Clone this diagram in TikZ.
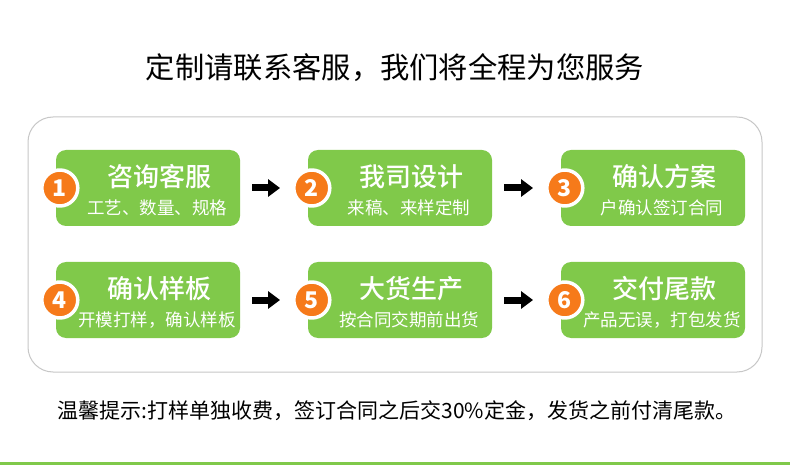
\documentclass[tikz,border=0pt]{standalone}
\usepackage{fontspec}
\setmainfont{Noto Sans CJK SC}
\newfontfamily\medfont{Noto Sans CJK SC}[UprightFont=* Medium]
\usetikzlibrary{arrows.meta}
\definecolor{stepgreen}{RGB}{128,201,74}
\definecolor{numorange}{RGB}{246,122,26}
\begin{document}
\begin{tikzpicture}[x=1pt, y=-1pt, line cap=round, line join=round,
    stepbox/.style={fill=stepgreen, rounded corners=10pt, minimum width=184pt, minimum height=76pt, inner sep=0pt},
    headtext/.style={text=white, font=\fontsize{26}{26}\medfont, inner sep=0pt},
    subtext/.style={text=white, font=\fontsize{17.5}{17.5}\selectfont, inner sep=0pt},
    numdot/.style={circle, fill=numorange, draw=white, line width=3.5pt, minimum size=36pt, inner sep=0pt, text=white, font=\fontsize{23}{23}\selectfont\bfseries},
    flowarrow/.style={line width=7pt, line cap=butt, -{Triangle[length=12pt, width=17pt]}}]
			\useasboundingbox (0,0) rectangle (790,465);
			\fill[white] (0,0) rectangle (790,465);
			\node[font=\fontsize{29.3}{29.3}\selectfont, inner sep=0pt] (title) at (395,68) {定制请联系客服，我们将全程为您服务};
			\draw[black!22, line width=1pt, rounded corners=25pt] (28,117) rectangle (762,372);
			% first row
			\node[stepbox] (b1) at (148,188) {};
			\node[stepbox] (b2) at (400,188) {};
			\node[stepbox] (b3) at (653,188) {};
			% second row
			\node[stepbox] (b4) at (148,300) {};
			\node[stepbox] (b5) at (400,300) {};
			\node[stepbox] (b6) at (653,300) {};
			\node[headtext] (h1) at ([xshift=11pt, yshift=11pt]b1.center) {咨询客服};
			\node[subtext] (s1) at ([xshift=9pt, yshift=-20pt]b1.center) {工艺、数量、规格};
			\node[headtext] (h2) at ([xshift=11pt, yshift=11pt]b2.center) {我司设计};
			\node[subtext] (s2) at ([xshift=9pt, yshift=-20pt]b2.center) {来稿、来样定制};
			\node[headtext] (h3) at ([xshift=11pt, yshift=11pt]b3.center) {确认方案};
			\node[subtext] (s3) at ([xshift=9pt, yshift=-20pt]b3.center) {户确认签订合同};
			\node[headtext] (h4) at ([xshift=11pt, yshift=11pt]b4.center) {确认样板};
			\node[subtext] (s4) at ([xshift=9pt, yshift=-20pt]b4.center) {开模打样，确认样板};
			\node[headtext] (h5) at ([xshift=11pt, yshift=11pt]b5.center) {大货生产};
			\node[subtext] (s5) at ([xshift=9pt, yshift=-20pt]b5.center) {按合同交期前出货};
			\node[headtext] (h6) at ([xshift=11pt, yshift=11pt]b6.center) {交付尾款};
			\node[subtext] (s6) at ([xshift=9pt, yshift=-20pt]b6.center) {产品无误，打包发货};
			\node[numdot] (n1) at ([xshift=4pt]b1.west) {1};
			\node[numdot] (n2) at ([xshift=4pt]b2.west) {2};
			\node[numdot] (n3) at ([xshift=4pt]b3.west) {3};
			\node[numdot] (n4) at ([xshift=4pt]b4.west) {4};
			\node[numdot] (n5) at ([xshift=4pt]b5.west) {5};
			\node[numdot] (n6) at ([xshift=4pt]b6.west) {6};
			\draw[flowarrow] ([xshift=12pt]b1.east) -- ([xshift=-12pt]n2.west);
			\draw[flowarrow] ([xshift=12pt]b2.east) -- ([xshift=-12pt]n3.west);
			\draw[flowarrow] ([xshift=12pt]b4.east) -- ([xshift=-12pt]n5.west);
			\draw[flowarrow] ([xshift=12pt]b5.east) -- ([xshift=-12pt]n6.west);
			\node[font=\fontsize{21}{21}\selectfont, inner sep=0pt] (note) at (397,411) {温馨提示:打样单独收费，签订合同之后交30\%定金，发货之前付清尾款。};
			\fill[stepgreen] (0,462) rectangle (790,465);
		\end{tikzpicture}
\end{document}
